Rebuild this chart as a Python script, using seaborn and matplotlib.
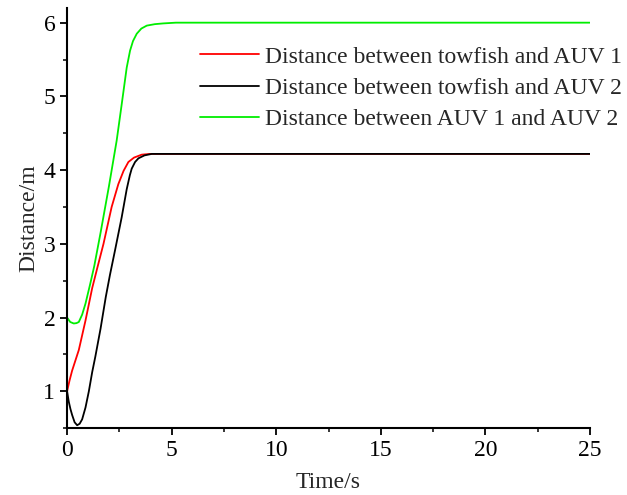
import matplotlib
matplotlib.use('Agg')
import matplotlib.pyplot as plt
import seaborn as sns
from matplotlib.ticker import MultipleLocator

# --- data ---
t_red = [0, 0.12, 0.24, 0.4, 0.56, 0.72, 0.88, 1.04, 1.2, 1.45, 1.74, 2.13, 2.45,
         2.7, 2.93, 3.2, 3.57, 3.97, 25]
d_red = [1.0, 1.15, 1.28, 1.42, 1.56, 1.76, 1.96, 2.18, 2.40, 2.68, 3.00, 3.50, 3.81,
         3.99, 4.11, 4.17, 4.21, 4.22, 4.22]

t_black = [0, 0.08, 0.16, 0.24, 0.36, 0.48, 0.6, 0.72, 0.88, 1.04, 1.2, 1.35, 1.6,
           1.85, 2.05, 2.29, 2.61, 2.85, 3.0, 3.09, 3.25, 3.41, 3.7, 4.05, 25]
d_black = [1.0, 0.86, 0.76, 0.68, 0.58, 0.54, 0.56, 0.62, 0.78, 1.0, 1.26, 1.47, 1.85,
           2.28, 2.58, 2.91, 3.36, 3.74, 3.93, 4.02, 4.11, 4.16, 4.20, 4.22, 4.22]

t_green = [0, 0.15, 0.32, 0.45, 0.56, 0.72, 0.88, 1.1, 1.3, 1.6, 2.0, 2.37, 2.6,
           2.85, 3.01, 3.15, 3.33, 3.55, 3.81, 4.2, 4.6, 5.2, 25]
d_green = [2.0, 1.94, 1.92, 1.925, 1.94, 2.04, 2.19, 2.45, 2.70, 3.15, 3.78, 4.40, 4.87,
           5.39, 5.62, 5.75, 5.85, 5.92, 5.96, 5.98, 5.99, 6.0, 6.0]

labels = ['Distance between towfish and AUV 1',
          'Distance between towfish and AUV 2',
          'Distance between AUV 1 and AUV 2']
colors = ['#ff0000', '#000000', '#00ee00']

sns.set_theme(style='ticks')
plt.rcParams['font.family'] = ['Liberation Serif', 'DejaVu Serif']

fig = plt.figure(figsize=(6.27, 4.95), dpi=100)
ax = fig.add_axes([0.107, 0.135, 0.834, 0.849])

series = [(t_red, d_red), (t_black, d_black), (t_green, d_green)]
for (t, d), lab, c in zip(series, labels, colors):
    sns.lineplot(x=t, y=d, ax=ax, color=c, linewidth=1.3, label=lab, sort=False)

ax.set_xlim(0, 25)
ax.set_ylim(0.5, 6.2)
ax.xaxis.set_major_locator(MultipleLocator(5))
ax.xaxis.set_minor_locator(MultipleLocator(2.5))
ax.yaxis.set_major_locator(MultipleLocator(1))
ax.yaxis.set_minor_locator(MultipleLocator(0.5))
ax.tick_params(which='major', direction='out', length=5, width=1.3, labelsize=17, colors='black')
ax.tick_params(which='minor', direction='out', length=3, width=1.3)
for s in ['left', 'bottom']:
    ax.spines[s].set_linewidth(1.5)
    ax.spines[s].set_color('black')
sns.despine(ax=ax)

ax.set_xlabel('Time/s', fontsize=17, labelpad=8)
ax.set_ylabel('Distance/m', fontsize=17, labelpad=3)

ax.get_legend().remove()
handles, labs = ax.get_legend_handles_labels()
fig.legend(handles, labs, loc='upper left', bbox_to_anchor=(0.319, 0.907),
           frameon=False, fontsize=17, handlelength=2.5, handletextpad=0.25,
           labelspacing=0.42, borderpad=0, borderaxespad=0)

fig.savefig('out.png', dpi=100)
